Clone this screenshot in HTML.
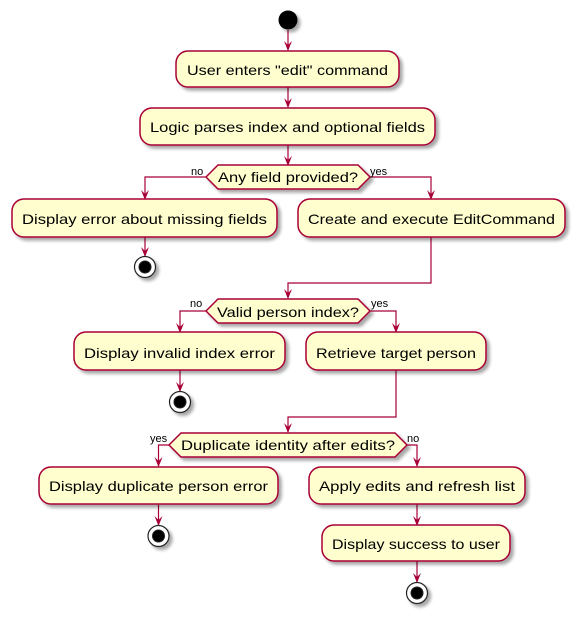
<!DOCTYPE html>
<html><head><meta charset="utf-8"><style>html,body{margin:0;padding:0;background:#fff}svg{display:block}</style></head><body>
<svg width="580" height="619" viewBox="0 0 580 619" xmlns="http://www.w3.org/2000/svg" font-family="Liberation Sans, sans-serif">
<defs>
<filter id="sh" x="-10%" y="-10%" width="130%" height="150%"><feGaussianBlur in="SourceAlpha" stdDeviation="1.5"/><feOffset dx="3" dy="3"/><feComponentTransfer><feFuncA type="linear" slope="0.35"/></feComponentTransfer><feMerge><feMergeNode/><feMergeNode in="SourceGraphic"/></feMerge></filter>
<marker id="ar" viewBox="0 0 10 10" refX="9" refY="5" markerWidth="10" markerHeight="10" orient="auto" markerUnits="userSpaceOnUse"><path d="M0,1 L10,5 L0,9 L4,5 Z" fill="#A80036"/></marker>
</defs>
<g stroke="#A80036" stroke-width="1.2" fill="none" marker-end="url(#ar)">
<path d="M288,30 V50"/>
<path d="M288,87 V107"/>
<path d="M288,145 V165"/>
<path d="M206,177 H145 V199"/>
<path d="M370,177 H431 V199"/>
<path d="M145,237 V256"/>
<path d="M431,237 V283 H288 V298"/>
<path d="M206,311 H180 V332"/>
<path d="M370,311 H396 V332"/>
<path d="M180,370 V391"/>
<path d="M396,370 V417 H288 V432"/>
<path d="M169,445 H158.5 V466"/>
<path d="M407,445 H417 V466"/>
<path d="M158.5,504 V525"/>
<path d="M417,504 V525"/>
<path d="M417,561 V582"/>
</g>
<g fill="#FEFECE" stroke="#A80036" stroke-width="1.5" filter="url(#sh)">
<rect x="176" y="51" width="223" height="36" rx="12"/>
<rect x="140" y="108" width="295" height="37" rx="12"/>
<polygon points="206,177 218,165 358,165 370,177 358,189 218,189"/>
<rect x="12" y="199" width="265" height="38" rx="12"/>
<rect x="298" y="199" width="267" height="38" rx="12"/>
<polygon points="206,311 218,299 358,299 370,311 358,323 218,323"/>
<rect x="74" y="332" width="211" height="38" rx="12"/>
<rect x="306" y="332" width="180" height="38" rx="12"/>
<polygon points="169,445 181,433 395,433 407,445 395,457 181,457"/>
<rect x="39" y="467" width="239" height="37" rx="12"/>
<rect x="309" y="467" width="216" height="37" rx="12"/>
<rect x="322" y="525" width="188" height="36" rx="12"/>
</g>
<g filter="url(#sh)">
<circle cx="288" cy="20" r="9.5" fill="#000"/>
<g fill="#000" stroke="#222" stroke-width="1"><circle cx="145" cy="267" r="10.5" fill="#fff" stroke-width="1.2"/><circle cx="145" cy="267" r="6"/></g>
<g fill="#000" stroke="#222" stroke-width="1"><circle cx="180" cy="402" r="10.5" fill="#fff" stroke-width="1.2"/><circle cx="180" cy="402" r="6"/></g>
<g fill="#000" stroke="#222" stroke-width="1"><circle cx="158.5" cy="536" r="10.5" fill="#fff" stroke-width="1.2"/><circle cx="158.5" cy="536" r="6"/></g>
<g fill="#000" stroke="#222" stroke-width="1"><circle cx="417" cy="593" r="10.5" fill="#fff" stroke-width="1.2"/><circle cx="417" cy="593" r="6"/></g>
</g>
<g font-size="14" fill="#000" lengthAdjust="spacingAndGlyphs">
<text x="187" y="75" textLength="201" lengthAdjust="spacingAndGlyphs">User enters "edit" command</text>
<text x="150" y="132" textLength="275" lengthAdjust="spacingAndGlyphs">Logic parses index and optional fields</text>
<text x="218" y="182" textLength="140" lengthAdjust="spacingAndGlyphs">Any field provided?</text>
<text x="22" y="224" textLength="245" lengthAdjust="spacingAndGlyphs">Display error about missing fields</text>
<text x="308" y="224" textLength="247" lengthAdjust="spacingAndGlyphs">Create and execute EditCommand</text>
<text x="217" y="317" textLength="142" lengthAdjust="spacingAndGlyphs">Valid person index?</text>
<text x="84" y="358" textLength="191" lengthAdjust="spacingAndGlyphs">Display invalid index error</text>
<text x="316" y="358" textLength="160" lengthAdjust="spacingAndGlyphs">Retrieve target person</text>
<text x="181" y="450" textLength="214" lengthAdjust="spacingAndGlyphs">Duplicate identity after edits?</text>
<text x="49" y="491" textLength="219" lengthAdjust="spacingAndGlyphs">Display duplicate person error</text>
<text x="319" y="491" textLength="196" lengthAdjust="spacingAndGlyphs">Apply edits and refresh list</text>
<text x="332" y="549" textLength="168" lengthAdjust="spacingAndGlyphs">Display success to user</text>
</g>
<g font-size="11" fill="#000">
<text x="191" y="175">no</text>
<text x="370" y="175">yes</text>
<text x="190" y="307">no</text>
<text x="371" y="307">yes</text>
<text x="150" y="442">yes</text>
<text x="407" y="442">no</text>
</g>
</svg>
</body></html>
